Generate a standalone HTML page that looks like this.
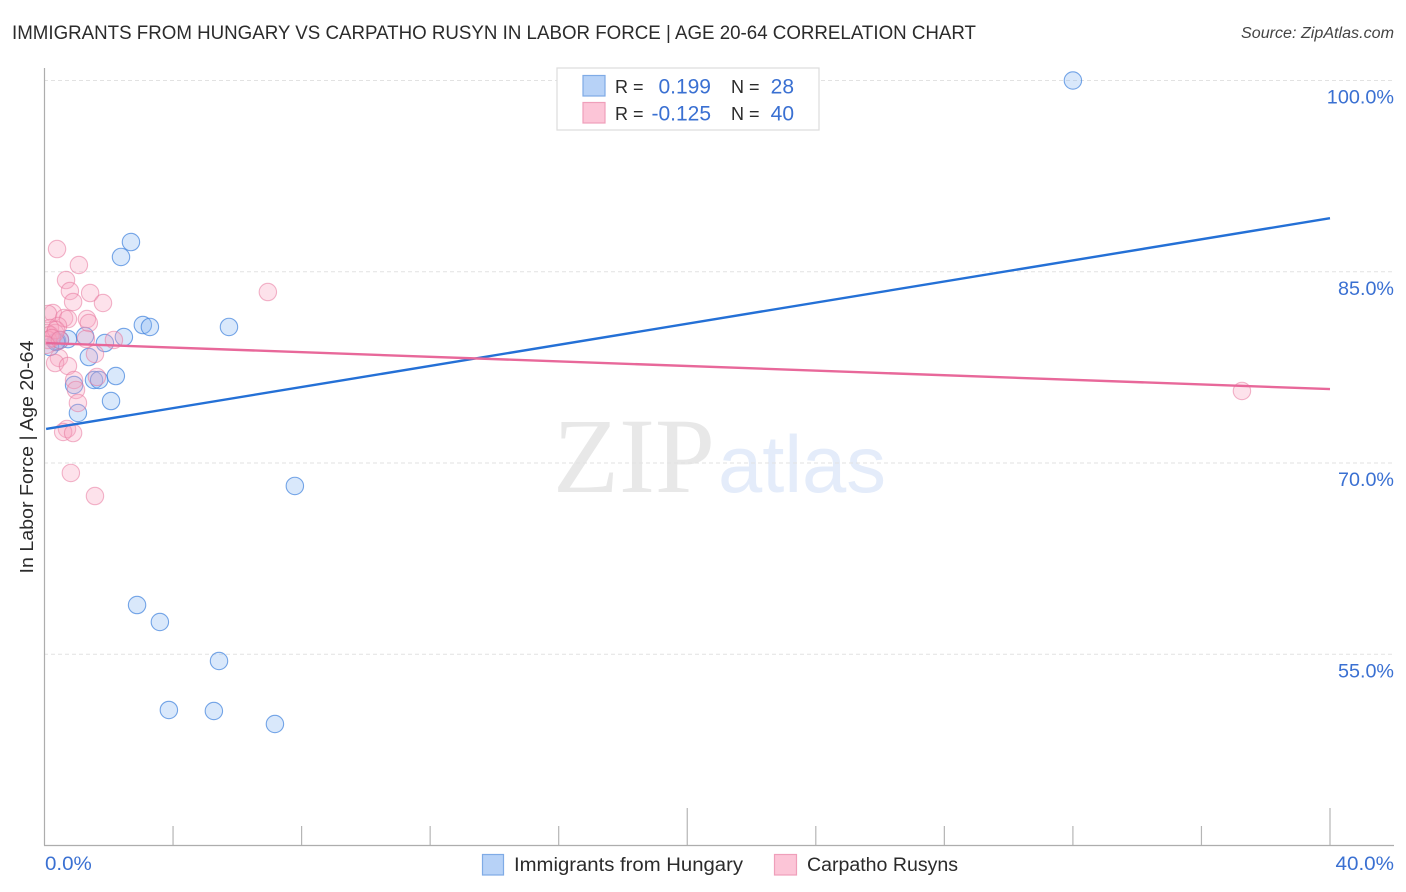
<!DOCTYPE html>
<html lang="en">
<head>
<meta charset="utf-8">
<title>Immigrants from Hungary vs Carpatho Rusyn in Labor Force correlation chart</title>
<style>
html,body{margin:0;padding:0;background:#fff;width:1406px;height:892px;overflow:hidden}
svg{display:block}
text{font-family:"Liberation Sans",sans-serif}
</style>
</head>
<body>
<svg id="chart" xmlns="http://www.w3.org/2000/svg" width="1406" height="892" viewBox="0 0 1406 892">
  <defs>
    <clipPath id="plotClip"><rect x="45" y="60" width="1361" height="786"/></clipPath>
  </defs>
  <text x="12" y="39" font-size="19.5" fill="#2b2b2b" textLength="964" lengthAdjust="spacingAndGlyphs">IMMIGRANTS FROM HUNGARY VS CARPATHO RUSYN IN LABOR FORCE | AGE 20-64 CORRELATION CHART</text>
  <text x="1241" y="38" font-size="15.5" font-style="italic" fill="#444" textLength="153" lengthAdjust="spacingAndGlyphs">Source: ZipAtlas.com</text>

  <g>
    <text x="553" y="492" font-size="107" fill="#e8e8e8" style="font-family:'Liberation Serif',serif" textLength="162" lengthAdjust="spacingAndGlyphs">ZIP</text>
    <text x="718" y="492" font-size="81" fill="#e4ecfa" textLength="168" lengthAdjust="spacingAndGlyphs">atlas</text>
  </g>

  <g id="grid"></g>
  <g id="yLabels"></g>
  <g id="xTicks"></g>
  <line x1="44.5" y1="68" x2="44.5" y2="845.5" stroke="#adadad" stroke-width="1.2"/>
  <line x1="44" y1="845.5" x2="1394" y2="845.5" stroke="#adadad" stroke-width="1.2"/>
  <g id="xLabels"></g>

  <text transform="translate(33,457) rotate(-90)" font-size="18.5" fill="#2b2b2b" text-anchor="middle" textLength="233" lengthAdjust="spacingAndGlyphs">In Labor Force | Age 20-64</text>

  <g clip-path="url(#plotClip)">
    <g id="bluePoints"></g>
    <g id="pinkPoints"></g>
    <line id="blueTrend" stroke="#2470d6" stroke-width="2.4"/>
    <line id="pinkTrend" stroke="#e8689a" stroke-width="2.4"/>
  </g>

  <g>
    <rect x="557" y="68" width="262" height="62" fill="#fff" stroke="#dcdcdc" stroke-width="1.2"/>
    <rect x="583" y="75.500" width="22" height="20.500" fill="#b7d2f7" stroke="#7fabe6" stroke-width="1.2"/>
    <rect x="583" y="102.500" width="22" height="20.500" fill="#fcc5d7" stroke="#ef9fba" stroke-width="1.2"/>
    <text x="615" y="93" font-size="18" fill="#2b2b2b">R =</text>
    <text x="711" y="93.500" font-size="21" fill="#3a70d2" text-anchor="end">0.199</text>
    <text x="731" y="93" font-size="18" fill="#2b2b2b">N =</text>
    <text x="794" y="93.500" font-size="21" fill="#3a70d2" text-anchor="end">28</text>
    <text x="615" y="120" font-size="18" fill="#2b2b2b">R =</text>
    <text x="711" y="120.500" font-size="21" fill="#3a70d2" text-anchor="end">-0.125</text>
    <text x="731" y="120" font-size="18" fill="#2b2b2b">N =</text>
    <text x="794" y="120.500" font-size="21" fill="#3a70d2" text-anchor="end">40</text>
  </g>

  <g>
    <rect x="482.500" y="854.500" width="21" height="20.500" fill="#b7d2f7" stroke="#7fabe6" stroke-width="1.2"/>
    <text x="514" y="871" font-size="19" fill="#2b2b2b" textLength="229" lengthAdjust="spacingAndGlyphs">Immigrants from Hungary</text>
    <rect x="774.500" y="854.500" width="22" height="20.500" fill="#fcc5d7" stroke="#ef9fba" stroke-width="1.2"/>
    <text x="807" y="871" font-size="19" fill="#2b2b2b" textLength="151" lengthAdjust="spacingAndGlyphs">Carpatho Rusyns</text>
  </g>
</svg>
<script>
const yTickValues = [100, 85, 70, 55];
const yTickLabels = ["100.0%", "85.0%", "70.0%", "55.0%"];
const xTickValues = [4, 8, 12, 16, 20, 24, 28, 32, 36, 40];
const xMajorTicks = [20, 40];
const xEndValues = [0, 40];
const xEndLabels = ["0.0%", "40.0%"];

const hungaryX = [32.0, 2.69, 2.38, 3.06, 3.28, 5.74, 2.47, 1.26, 1.88, 0.73, 0.39, 0.48, 0.17, 1.38, 2.22, 1.54, 1.70, 0.92, 2.07, 1.04, 7.79, 2.88, 3.59, 5.43, 3.87, 5.27, 7.17, 0.36];
const hungaryY = [100.0, 87.33, 86.16, 80.82, 80.67, 80.67, 79.88, 79.96, 79.41, 79.72, 79.57, 79.65, 79.10, 78.31, 76.82, 76.51, 76.51, 76.12, 74.86, 73.92, 68.2, 58.86, 57.53, 54.47, 50.63, 50.55, 49.53, 79.49];

const carpathoX = [0.39, 1.07, 0.67, 0.79, 6.95, 1.42, 0.89, 1.82, 0.26, 0.11, 0.61, 0.73, 1.32, 1.38, 0.42, 0.17, 0.08, 0.33, 1.29, 2.16, 0.17, 0.11, 1.57, 0.45, 0.33, 0.73, 1.63, 0.92, 0.98, 1.04, 37.26, 0.70, 0.58, 0.89, 0.82, 1.57, 0.36, 0.23, 0.48, 0.05];
const carpathoY = [86.78, 85.53, 84.35, 83.49, 83.41, 83.33, 82.63, 82.55, 81.76, 81.69, 81.37, 81.29, 81.29, 80.98, 80.75, 80.59, 80.2, 80.2, 79.73, 79.65, 80.04, 79.65, 78.55, 78.24, 77.84, 77.61, 76.75, 76.51, 75.73, 74.71, 75.65, 72.67, 72.43, 72.35, 69.22, 67.41, 80.43, 79.8, 79.65, 79.26];

const trendX = [0.05, 40];
const hungaryTrendY = [72.67, 89.2];
const carpathoTrendY = [79.41, 75.8];

const NS = "http://www.w3.org/2000/svg";
function xScale(v) { return 44.5 + v * (1330 - 44.5) / 40; }
function yScale(v) { return 80.5 + (100 - v) * 12.75; }
function make(tag, parent, attrs) {
  const el = document.createElementNS(NS, tag);
  for (const k in attrs) el.setAttribute(k, attrs[k]);
  parent.appendChild(el);
  return el;
}

const grid = document.getElementById("grid");
const yLabels = document.getElementById("yLabels");
yTickValues.forEach(function (v, i) {
  const line = make("line", grid, {x1: 44, x2: 1394, y1: yScale(v), y2: yScale(v), stroke: "#e2e2e2", "stroke-width": 1, "stroke-dasharray": "4 3"});
  
  
  const label = make("text", yLabels, {x: 1394, y: yScale(v) + 23, "font-size": 19.5, fill: "#3a70d2", "text-anchor": "end", textLength: yTickLabels[i].length * 11.2, lengthAdjust: "spacingAndGlyphs"});
  
  
  label.textContent = yTickLabels[i];
});

const xTicks = document.getElementById("xTicks");
xTickValues.forEach(function (v) {
  const top = xMajorTicks.indexOf(v) >= 0 ? 808 : 826;
  const tick = make("line", xTicks, {x1: xScale(v), x2: xScale(v), y1: top, y2: 845.5, stroke: "#b5b5b5", "stroke-width": 1.2});
  
  
});

const xLabels = document.getElementById("xLabels");
xEndValues.forEach(function (v, i) {
  const anchor = i === 0 ? "start" : "end";
  const px = i === 0 ? xScale(v) + 0.5 : 1394;
  const label = make("text", xLabels, {x: px, y: 870, "font-size": 19.5, fill: "#3a70d2", "text-anchor": anchor, textLength: xEndLabels[i].length * 11.7, lengthAdjust: "spacingAndGlyphs"});
  
  
  label.textContent = xEndLabels[i];
});

function drawPoints(groupId, xs, ys, fill, stroke, strokeOpacity) {
  const g = document.getElementById(groupId);
  xs.forEach(function (x, i) {
    const c = make("circle", g, {cx: xScale(x), cy: yScale(ys[i]), r: 8.7, fill: fill, "fill-opacity": 0.32, stroke: stroke, "stroke-opacity": strokeOpacity, "stroke-width": 1.1});
    
    
  });
}
drawPoints("bluePoints", hungaryX, hungaryY, "#8ab8f2", "#3f82dd", 0.7);
drawPoints("pinkPoints", carpathoX, carpathoY, "#f9a6c0", "#e8789f", 0.55);

function drawTrend(id, ys) {
  const l = document.getElementById(id);
  l.setAttribute("x1", xScale(trendX[0]));
  l.setAttribute("y1", yScale(ys[0]));
  l.setAttribute("x2", xScale(trendX[1]));
  l.setAttribute("y2", yScale(ys[1]));
}
drawTrend("blueTrend", hungaryTrendY);
drawTrend("pinkTrend", carpathoTrendY);
</script>
</body>
</html>
